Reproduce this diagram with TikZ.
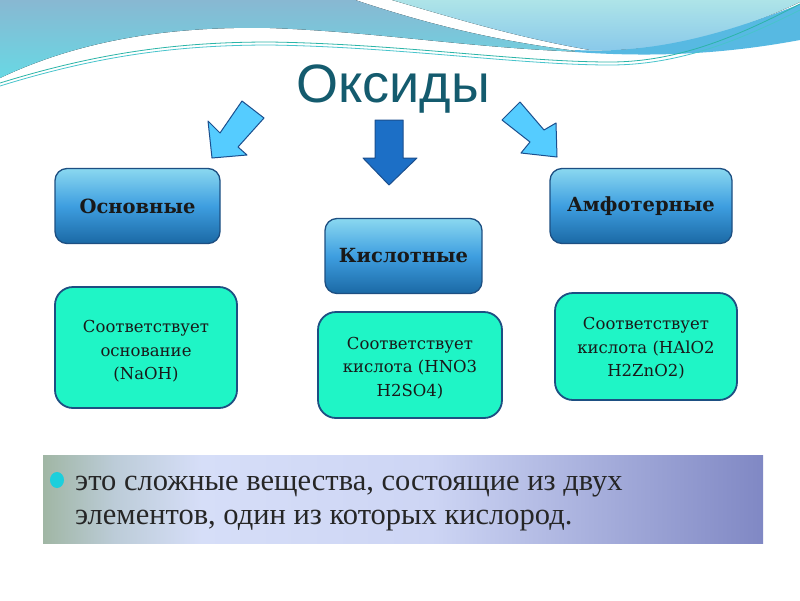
\documentclass[tikz,border=0pt]{standalone}
\usepackage{fontspec}
\setmainfont{Liberation Serif}
\newfontfamily\titlefont{Liberation Sans}
\newfontfamily\boxfont{DejaVu Serif}
\definecolor{titlecol}{HTML}{145B6E}
\definecolor{edgecol}{HTML}{1D4F82}
\definecolor{aqua}{HTML}{1FF5C6}
\definecolor{lightarrow}{HTML}{55CCFF}
\definecolor{arrowedge}{HTML}{1B4F8E}
\definecolor{darkarrow}{HTML}{1C6FC6}
\definecolor{bulletcol}{HTML}{1CCFDC}
\definecolor{htop}{HTML}{8AD8F0}
\definecolor{hmid}{HTML}{3E9EE0}
\definecolor{hbot}{HTML}{1B69A5}
\definecolor{waveTop}{HTML}{88B8D2}
\definecolor{waveBot}{HTML}{68D8E4}
\definecolor{paleTop}{HTML}{AEE4E8}
\definecolor{paleBot}{HTML}{88C8EA}
\definecolor{bandblue}{HTML}{57B9E2}
\definecolor{lineA}{HTML}{2BB5A8}
\definecolor{lineB}{HTML}{48C4CC}
\definecolor{bA}{HTML}{A0B6A4}
\definecolor{bB}{HTML}{BCCCD8}
\definecolor{bC}{HTML}{D6DEF8}
\definecolor{bD}{HTML}{CDD5F4}
\definecolor{bE}{HTML}{8088C4}
\pgfdeclarehorizontalshading{bandshade}{100bp}{color(0bp)=(bA); color(25bp)=(bA); color(30bp)=(bB); color(36bp)=(bC); color(52bp)=(bD); color(75bp)=(bE); color(100bp)=(bE)}
\tikzset{
  hdrbox/.style={draw=edgecol, line width=1.3pt, rounded corners=12pt,
    top color=htop, bottom color=hbot, middle color=hmid,
    minimum height=75pt, inner sep=0pt,
    font=\boxfont\bfseries\fontsize{19.5}{23}\selectfont, text=black!90},
  infobox/.style={draw=edgecol, line width=1.8pt, rounded corners=18pt,
    fill=aqua, inner sep=0pt},
  infotext/.style={inner sep=0pt, align=center,
    font=\boxfont\fontsize{16.5}{23.5}\selectfont, text=black!90},
  sidearrow/.style={fill=lightarrow, draw=arrowedge, line width=1pt, line join=round},
  midarrow/.style={fill=darkarrow, draw=arrowedge, line width=1pt, line join=round},
  waveline/.style={line width=0.8pt},
  bodytext/.style={anchor=base west, inner sep=0pt, font=\fontsize{30.5}{32}\selectfont, text=black!85}
}
\begin{document}
\begin{tikzpicture}[x=1pt,y=-1pt]
\useasboundingbox (0,0) rectangle (800,600);
\fill[white] (0,0) rectangle (800,600);
% top wave
\fill[top color=waveTop, bottom color=waveBot] (0,0) -- (355,0) .. controls (430,25) and (500,42) .. (585,52) .. controls (470,48) and (380,32) .. (270,28) .. controls (170,26) and (80,40) .. (0,78) -- cycle;
\fill[top color=paleTop, bottom color=paleBot] (392,0) -- (800,0) -- (800,2) .. controls (720,40) and (650,52) .. (590,50) .. controls (520,38) and (460,20) .. (392,0) -- cycle;
\fill[bandblue] (575,50) .. controls (650,54) and (720,36) .. (800,4) -- (800,40) .. controls (730,53) and (660,58) .. (575,52) -- cycle;
\draw[waveline, lineA] (0,83) .. controls (100,52) and (180,42) .. (270,42) .. controls (400,44) and (520,62) .. (610,62) .. controls (680,62) and (740,35) .. (800,4);
\draw[waveline, lineB] (0,86) .. controls (100,55) and (180,45) .. (270,45) .. controls (400,47) and (520,65) .. (610,65) .. controls (680,65) and (740,40) .. (800,10);
% title
\node[anchor=base, inner sep=0pt, font=\titlefont\fontsize{54}{58}\selectfont, text=titlecol] (title) at (393,102) {Оксиды};
% arrows
\draw[sidearrow] (242,101) -- (264,118) -- (238,147) -- (247,155) -- (212,158) -- (208,121) -- (220,133) -- cycle;
\draw[sidearrow] (520,102) -- (544,130) -- (556,123) -- (557,157) -- (521,153) -- (530,142) -- (502,120) -- cycle;
\draw[midarrow] (375,120) -- (403,120) -- (403,158) -- (417,158) -- (389,185) -- (363,158) -- (375,158) -- cycle;
% header boxes
\node[hdrbox, minimum width=165pt] (osn) at (137.5,206) {Основные};
\node[hdrbox, minimum width=157pt] (kis) at (403.5,256) {Кислотные};
\node[hdrbox, minimum width=182pt] (amf) at (641,206) {Амфотерные};
% info boxes
\node[infobox, minimum width=182pt, minimum height=121pt] (osninfo) at (146,347.5) {};
\node[infotext] (osntext) at ([yshift=-4pt]osninfo.center) {Соответствует\\основание\\(NaOH)};
\node[infobox, minimum width=184pt, minimum height=106pt] (kisinfo) at (410,365) {};
\node[infotext] (kistext) at ([yshift=-3pt]kisinfo.center) {Соответствует\\кислота (HNO3\\H2SO4)};
\node[infobox, minimum width=182pt, minimum height=107pt] (amfinfo) at (646,346.5) {};
\node[infotext] (amftext) at ([yshift=-2pt]amfinfo.center) {Соответствует\\кислота (HAlO2\\H2ZnO2)};
% bottom band
\fill[shading=bandshade] (43,455) rectangle (763,543);
\fill[bulletcol] (57,480) ellipse [x radius=7, y radius=8];
\node[bodytext] (line1) at (75,490) {это сложные вещества, состоящие из двух};
\node[bodytext] (line2) at (75,524) {элементов, один из которых кислород.};
\end{tikzpicture}
\end{document}
